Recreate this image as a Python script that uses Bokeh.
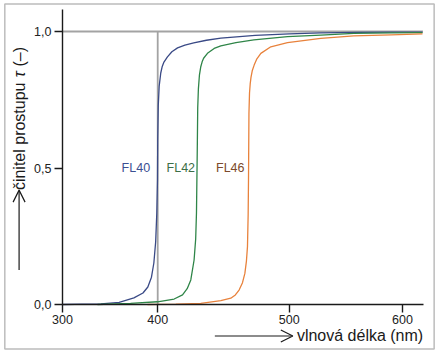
from bokeh.plotting import figure
from bokeh.models import Range1d, FixedTicker, Label, Arrow, OpenHead, BoxAnnotation
from bokeh.embed import file_html
from bokeh.resources import INLINE
import math

# ---- data ----
fl40_x = [300, 334, 350, 363, 371, 375.3, 378.5, 380.6, 382.2, 383.2, 383.8, 384.0, 384.5, 385.3, 386.7, 388.0, 389.5, 392.6, 396.5, 401.5, 408, 415.8, 427, 439.7, 470, 500, 527.9, 560, 590, 617.6]
fl40_y = [0.0, 0.002, 0.008, 0.024, 0.042, 0.064, 0.10, 0.152, 0.23, 0.335, 0.456, 0.60, 0.73, 0.80, 0.848, 0.872, 0.888, 0.907, 0.926, 0.940, 0.950, 0.958, 0.968, 0.976, 0.986, 0.991, 0.995, 0.997, 0.998, 0.998]

fl42_x = [330.9, 360, 383.8, 398.5, 405.9, 410, 413.2, 416.1, 417.5, 418.2, 418.9, 419.3, 419.9, 420.8, 422.0, 423.2, 424.5, 427.9, 433.8, 439.7, 453, 468.8, 498.5, 527.9, 557, 590, 617.6]
fl42_y = [0.0, 0.004, 0.010, 0.020, 0.035, 0.058, 0.090, 0.163, 0.24, 0.335, 0.566, 0.72, 0.79, 0.84, 0.871, 0.889, 0.902, 0.920, 0.938, 0.947, 0.959, 0.969, 0.981, 0.987, 0.993, 0.995, 0.996]

fl46_x = [375, 400, 422, 439.7, 448.5, 452.5, 455.8, 458.8, 460.9, 462.3, 463.2, 463.8, 464.1, 464.5, 465.0, 465.6, 466.3, 467.4, 469.1, 471.5, 475, 483.8, 498.5, 527.9, 557, 590, 617.6]
fl46_y = [0.0, 0.001, 0.004, 0.014, 0.023, 0.035, 0.053, 0.08, 0.114, 0.16, 0.212, 0.33, 0.456, 0.70, 0.775, 0.808, 0.832, 0.856, 0.877, 0.900, 0.920, 0.944, 0.959, 0.975, 0.984, 0.988, 0.991]

series_names = ["FL40", "FL42", "FL46"]
label_x = [364.7, 404.4, 448.0]
label_y = [0.5, 0.5, 0.5]

boundary_nm = 384          # grey vertical marker (drawn at the reference's "400" tick)
full_level = 1.0
x_ticks = [300, 384, 500, 600]
x_tick_labels = ["300", "400", "500", "600"]
y_ticks = [0.0, 0.5, 1.0]
y_tick_labels = ["0,0", "0,5", "1,0"]
x_axis_span = (300, 618.5)
y_axis_span = (0, 1.079)

# ---- styles ----
line_colors = ["#3a4a86", "#2f8548", "#e8823c"]
text_colors = ["#3b4f92", "#3c6e47", "#7c4a2c"]
FONT = "Liberation Sans"
AX = "#1a1a1a"

# the frame covers the whole canvas; axes are pinned at fixed locations inside it
p = figure(width=440, height=356, output_backend="svg", toolbar_location=None,
           x_range=Range1d(245.3, 633.5), y_range=Range1d(-0.1905, 1.1136),
           min_border=0)
p.outline_line_color = None
p.grid.visible = False
p.background_fill_color = "white"
p.border_fill_color = "white"

for ax, ticks, labels, span, loc in ((p.xaxis[0], x_ticks, x_tick_labels, x_axis_span, 0.0),
                                     (p.yaxis[0], y_ticks, y_tick_labels, y_axis_span, 300)):
    ax.fixed_location = loc
    ax.bounds = span
    ax.ticker = FixedTicker(ticks=ticks)
    ax.major_label_overrides = {t: l for t, l in zip(ticks, labels)}
    ax.axis_line_color = AX
    ax.axis_line_width = 1.4
    ax.major_tick_line_color = AX
    ax.major_tick_line_width = 1.4
    ax.major_tick_in = 0
    ax.major_tick_out = 8
    ax.minor_tick_line_color = None
    ax.major_label_text_font = FONT
    ax.major_label_text_font_size = "12.5px"
    ax.major_label_text_color = "#222222"
p.xaxis.major_label_standoff = 3
p.yaxis.major_label_standoff = 3

# grey reference lines
p.line([300, 618], [full_level, full_level], line_color="#a3a3a3", line_width=2)
p.line([boundary_nm, boundary_nm], [0, full_level], line_color="#a3a3a3", line_width=1.8)

for xs, ys, c in ((fl40_x, fl40_y, line_colors[0]), (fl42_x, fl42_y, line_colors[1]), (fl46_x, fl46_y, line_colors[2])):
    p.line(xs, ys, line_color=c, line_width=1.3)

for name, lx, ly, c in zip(series_names, label_x, label_y, text_colors):
    p.add_layout(Label(x=lx, y=ly, text=name, text_align="center", text_baseline="middle",
                       text_font=FONT, text_font_size="12.5px", text_color=c))

# axis titles with arrows
TXT = "#1a1a1a"
p.add_layout(Arrow(x_start=434.4, y_start=-0.1154, x_end=503.2, y_end=-0.1154,
                   line_color=TXT, line_width=1.2,
                   end=OpenHead(size=12, line_color=TXT, line_width=1.2)))
p.add_layout(Label(x=506.8, y=-0.1154, text="vlnová délka (nm)", text_align="left",
                   text_baseline="middle", text_font=FONT, text_font_size="16px", text_color=TXT))

p.add_layout(Arrow(x_start=261.7, y_start=0.126, x_end=261.7, y_end=0.419,
                   line_color=TXT, line_width=1.2,
                   end=OpenHead(size=12, line_color=TXT, line_width=1.2)))
p.add_layout(Label(x=262.2, y=0.419, text="činitel prostupu", angle=math.pi / 2,
                   text_align="left", text_baseline="middle", text_font=FONT,
                   text_font_size="16px", text_color=TXT))
p.add_layout(Label(x=262.2, y=0.832, text="τ", angle=math.pi / 2,
                   text_align="left", text_baseline="middle", text_font=FONT,
                   text_font_style="italic", text_font_size="16px", text_color=TXT))
p.add_layout(Label(x=262.2, y=0.872, text="(–)", angle=math.pi / 2,
                   text_align="left", text_baseline="middle", text_font=FONT,
                   text_font_size="16px", text_color=TXT))

# outer frame around the whole chart
p.add_layout(BoxAnnotation(left=249.1, right=627.9, bottom=-0.163, top=1.1007,
                           fill_color=None, line_color="#222222", line_width=1.5))

open("out.html", "w").write(file_html(p, INLINE))
